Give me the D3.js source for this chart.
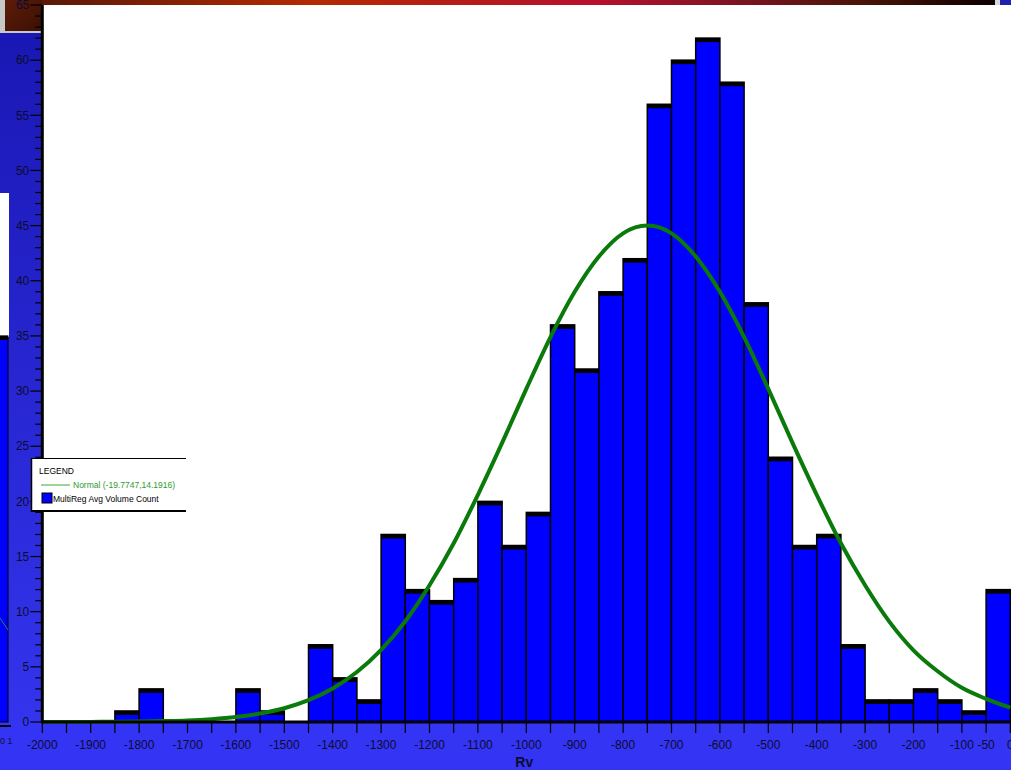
<!DOCTYPE html>
<html>
<head>
<meta charset="utf-8">
<script src="https://cdn.jsdelivr.net/npm/d3@7"></script>
<style>
  body { margin: 0; padding: 0; background: #fff; overflow: hidden; }
  svg { display: block; }
  text { font-family: "Liberation Sans", Arial, sans-serif; }
</style>
</head>
<body>
<div id="chart"></div>
<script>
// histogram bins (left edge of each 50-wide bin) and counts
var binStarts = [-2000, -1950, -1900, -1850, -1800, -1750, -1700, -1650, -1600, -1550,
                 -1500, -1450, -1400, -1350, -1300, -1250, -1200, -1150, -1100, -1050,
                 -1000, -950, -900, -850, -800, -750, -700, -650, -600, -550,
                 -500, -450, -400, -350, -300, -250, -200, -150, -100, -50];
var counts = [0, 0, 0, 1, 3, 0, 0, 0, 3, 1,
              0, 7, 4, 2, 17, 12, 11, 13, 20, 16,
              19, 36, 32, 39, 42, 56, 60, 62, 58, 38,
              24, 16, 17, 7, 2, 2, 3, 2, 1, 12];

// fitted normal curve, every 50
var curveX = [-2000, -1950, -1900, -1850, -1800, -1750, -1700, -1650, -1600, -1550,
              -1500, -1450, -1400, -1350, -1300, -1250, -1200, -1150, -1100, -1050,
              -1000, -950, -900, -850, -800, -750, -700, -650, -600, -550,
              -500, -450, -400, -350, -300, -250, -200, -150, -100, -50, 0];
var curveY = [0, 0.01, 0.01, 0.02, 0.04, 0.08, 0.14, 0.26, 0.45, 0.77,
              1.25, 1.98, 3.04, 4.53, 6.54, 9.14, 12.4, 16.2, 20.6, 25.3,
              30.2, 34.9, 39.0, 42.2, 44.3, 45.0, 44.3, 42.2, 39.0, 34.9,
              30.2, 25.3, 20.6, 16.2, 12.4, 9.1, 6.5, 4.6, 3.1, 2.1, 1.3];

// tick labels
var xTickLabels = [-2000, -1900, -1800, -1700, -1600, -1500, -1400, -1300, -1200, -1100,
                   -1000, -900, -800, -700, -600, -500, -400, -300, -200, -100, -50, 0];
var yTickLabels = [0, 5, 10, 15, 20, 25, 30, 35, 40, 45, 50, 55, 60, 65];

var legendLine = "Normal (-19.7747,14.1916)";
var legendBar = "MultiReg Avg Volume Count";

var width = 1011, height = 770;
var plotLeft = 42.3, plotRight = 1010.3, plotTop = 5, plotBottom = 722;
var binWidth = 50;

var x = d3.scaleLinear().domain([-2000, 0]).range([plotLeft, plotRight]);
var y = d3.scaleLinear().domain([0, 65]).range([plotBottom, plotTop]);

var svg = d3.select("#chart").append("svg")
    .attr("width", width)
    .attr("height", height);

var defs = svg.append("defs");

// top title-bar strip gradient
var topGrad = defs.append("linearGradient").attr("id", "topGrad");
[["0%", "#5a1808"], ["28%", "#b42a00"], ["58%", "#b8102e"], ["72%", "#801424"],
 ["86%", "#4a1408"], ["100%", "#0c0000"]].forEach(function (s) {
    topGrad.append("stop").attr("offset", s[0]).attr("stop-color", s[1]);
});

// left blue panel gradient
var leftGrad = defs.append("linearGradient").attr("id", "leftGrad")
    .attr("x1", 0).attr("y1", 0).attr("x2", 0).attr("y2", 1);
leftGrad.append("stop").attr("offset", "0%").attr("stop-color", "#1a18b4");
leftGrad.append("stop").attr("offset", "100%").attr("stop-color", "#3434ee");

var brownGrad = defs.append("linearGradient").attr("id", "brownGrad")
    .attr("x1", 0).attr("y1", 0).attr("x2", 1).attr("y2", 1);
brownGrad.append("stop").attr("offset", "0%").attr("stop-color", "#5e1c08");
brownGrad.append("stop").attr("offset", "100%").attr("stop-color", "#3a1004");

// background pieces of the surrounding desktop
svg.append("rect").attr("x", 0).attr("y", 0).attr("width", width).attr("height", height).attr("fill", "#fff");
svg.append("rect").attr("x", 42).attr("y", 0).attr("width", 953).attr("height", 5).attr("fill", "url(#topGrad)");
svg.append("rect").attr("x", 995).attr("y", 0).attr("width", 5).attr("height", 5).attr("fill", "#d8d8d8");
svg.append("rect").attr("x", 1000).attr("y", 0).attr("width", 11).attr("height", 5).attr("fill", "#2020b0");
svg.append("rect").attr("x", 0).attr("y", 33).attr("width", 42).attr("height", plotBottom - 33).attr("fill", "url(#leftGrad)");
svg.append("rect").attr("x", 0).attr("y", 0).attr("width", 42).attr("height", 33).attr("fill", "#c8c8c8");
svg.append("rect").attr("x", 5).attr("y", 0).attr("width", 37).attr("height", 31).attr("fill", "url(#brownGrad)");
svg.append("rect").attr("x", 0).attr("y", plotBottom).attr("width", width).attr("height", height - plotBottom).attr("fill", "#3434f4");

// a piece of another chart peeking at the left edge
svg.append("rect").attr("x", 0).attr("y", 193).attr("width", 9).attr("height", 144).attr("fill", "#fff");
svg.append("rect").attr("x", -2).attr("y", y(35)).attr("width", 10).attr("height", plotBottom - y(35))
    .attr("fill", "#0000ff").attr("stroke", "#000").attr("stroke-width", 1);
svg.append("rect").attr("x", -2).attr("y", y(35)).attr("width", 10).attr("height", 4).attr("fill", "#000");
svg.append("line").attr("x1", 0).attr("x2", 8).attr("y1", 618).attr("y2", 630)
    .attr("stroke", "#2a8a2a").attr("stroke-width", 1);
svg.append("line").attr("x1", 0).attr("x2", 11).attr("y1", 726).attr("y2", 726)
    .attr("stroke", "#000").attr("stroke-width", 2);
svg.append("text").attr("x", 0).attr("y", 744).attr("font-size", 9).attr("fill", "#101040").text("0 1");

// bars
var barsContainer = svg.append("g");
barsContainer.selectAll("rect.bar").data(counts).enter().append("rect")
    .attr("class", "bar")
    .attr("x", function (d, i) { return x(binStarts[i]); })
    .attr("width", function (d, i) { return x(binStarts[i] + binWidth) - x(binStarts[i]); })
    .attr("y", function (d) { return y(d); })
    .attr("height", function (d) { return plotBottom - y(d); })
    .attr("fill", "#0000ff")
    .attr("stroke", "#000")
    .attr("stroke-width", 1.5);

// black top caps
barsContainer.selectAll("rect.cap").data(counts).enter().append("rect")
    .attr("class", "cap")
    .attr("x", function (d, i) { return x(binStarts[i]); })
    .attr("width", function (d, i) { return x(binStarts[i] + binWidth) - x(binStarts[i]); })
    .attr("y", function (d) { return y(d); })
    .attr("height", function (d) { return d > 0 ? 4 : 0; })
    .attr("fill", "#000");

// normal curve
var line = d3.line()
    .x(function (d, i) { return x(curveX[i]); })
    .y(function (d) { return y(d); })
    .curve(d3.curveMonotoneX);

svg.append("path")
    .datum(curveY)
    .attr("d", line)
    .attr("fill", "none")
    .attr("stroke", "#0a7a0a")
    .attr("stroke-width", 4);

// y axis
var yAxisG = svg.append("g");
yAxisG.selectAll("line.minor").data(d3.range(0, 66)).enter().append("line")
    .attr("class", "minor")
    .attr("x1", function (d) { return d % 5 === 0 ? plotLeft - 12 : plotLeft - 7; })
    .attr("x2", plotLeft)
    .attr("y1", function (d) { return y(d); })
    .attr("y2", function (d) { return y(d); })
    .attr("stroke", "#000")
    .attr("stroke-width", 1.2);
yAxisG.selectAll("text").data(yTickLabels).enter().append("text")
    .attr("x", plotLeft - 13)
    .attr("y", function (d) { return y(d); })
    .attr("dy", ".35em")
    .attr("text-anchor", "end")
    .attr("font-size", 12)
    .attr("fill", "#0c0c30")
    .text(String);
yAxisG.append("line")
    .attr("x1", plotLeft).attr("x2", plotLeft)
    .attr("y1", plotTop).attr("y2", plotBottom + 1)
    .attr("stroke", "#000").attr("stroke-width", 3);

// x axis
var xAxisG = svg.append("g");
xAxisG.selectAll("line.tick").data(binStarts.concat([0])).enter().append("line")
    .attr("class", "tick")
    .attr("x1", function (d) { return x(d); })
    .attr("x2", function (d) { return x(d); })
    .attr("y1", plotBottom)
    .attr("y2", plotBottom + 11)
    .attr("stroke", "#000")
    .attr("stroke-width", 1.2);
xAxisG.selectAll("text").data(xTickLabels).enter().append("text")
    .attr("x", function (d) { return x(d); })
    .attr("y", plotBottom + 27)
    .attr("text-anchor", "middle")
    .attr("font-size", 12)
    .attr("fill", "#0c0c30")
    .text(String);
xAxisG.append("line")
    .attr("x1", plotLeft - 1).attr("x2", width)
    .attr("y1", plotBottom).attr("y2", plotBottom)
    .attr("stroke", "#000").attr("stroke-width", 3);
xAxisG.append("text")
    .attr("x", x(-1000) - 2)
    .attr("y", 767)
    .attr("text-anchor", "middle")
    .attr("font-size", 14)
    .attr("font-weight", "bold")
    .attr("fill", "#0c0c30")
    .text("Rv");

// legend
var legend = svg.append("g").attr("transform", "translate(31,458)");
legend.append("rect").attr("x", 0).attr("y", 0).attr("width", 155).attr("height", 54).attr("fill", "#fff");
legend.append("line").attr("x1", 0).attr("x2", 155).attr("y1", 0.5).attr("y2", 0.5).attr("stroke", "#000").attr("stroke-width", 1.2);
legend.append("line").attr("x1", 0).attr("x2", 155).attr("y1", 53).attr("y2", 53).attr("stroke", "#000").attr("stroke-width", 2);
legend.append("line").attr("x1", 0.5).attr("x2", 0.5).attr("y1", 0).attr("y2", 54).attr("stroke", "#000").attr("stroke-width", 1.5);
legend.append("text").attr("x", 8).attr("y", 16).attr("font-size", 8.5).attr("fill", "#000").text("LEGEND");
legend.append("line").attr("x1", 10).attr("x2", 39).attr("y1", 27).attr("y2", 27).attr("stroke", "#5cb85c").attr("stroke-width", 1.2);
legend.append("text").attr("x", 42).attr("y", 30).attr("font-size", 8.5).attr("fill", "#2e9a2e").text(legendLine);
legend.append("rect").attr("x", 11).attr("y", 35).attr("width", 10).attr("height", 10)
    .attr("fill", "#0000ff").attr("stroke", "#000").attr("stroke-width", 1);
legend.append("text").attr("x", 22).attr("y", 44).attr("font-size", 8.5).attr("fill", "#000").text(legendBar);
</script>
</body>
</html>
